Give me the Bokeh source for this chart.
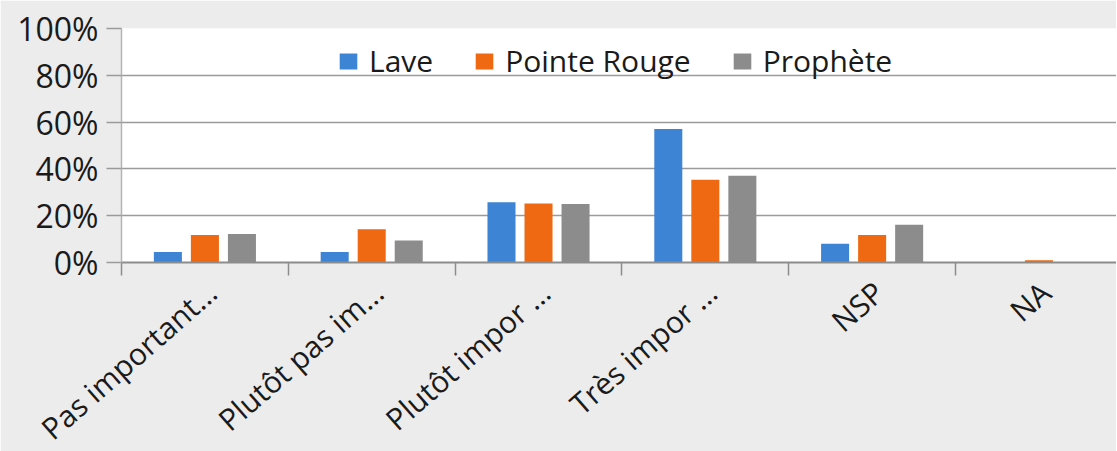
import math
from bokeh.plotting import figure
from bokeh.models import Range1d, FixedTicker, NumeralTickFormatter, Legend, LegendItem, CustomJSTickFormatter
from bokeh.embed import file_html
from bokeh.resources import INLINE

categories = ["Pas important…", "Plutôt pas im…", "Plutôt impor …", "Très impor …", "NSP", "NA"]
series_names = ["Lave", "Pointe Rouge", "Prophète"]
lave = [0.045, 0.045, 0.257, 0.570, 0.080, 0.0]
pointe_rouge = [0.118, 0.142, 0.252, 0.354, 0.118, 0.010]
prophete = [0.122, 0.094, 0.250, 0.371, 0.161, 0.0]
y_ticks = [0, 0.2, 0.4, 0.6, 0.8, 1.0]

colors = ["#3d84d4", "#ee6912", "#8c8c8c"]
FONT = "Open Sans"

p = figure(width=1116, height=435, frame_width=995, frame_height=234,
           x_range=Range1d(-0.5, 5.465), y_range=Range1d(0, 1.0),
           output_backend="svg", toolbar_location=None,
           min_border_left=121, min_border_right=0, min_border_top=28, min_border_bottom=173)

p.background_fill_color = "white"
p.border_fill_color = "#ececec"
p.outline_line_color = None

xs = list(range(len(categories)))
offsets = [-0.222, 0.0, 0.222]
renderers = []
for vals, off, c in zip([lave, pointe_rouge, prophete], offsets, colors):
    r = p.vbar(x=[x + off for x in xs], top=vals, bottom=0, width=0.168,
               fill_color=c, line_color=None)
    renderers.append(r)

legend = Legend(items=[LegendItem(label=n, renderers=[r]) for n, r in zip(series_names, renderers)],
                orientation="horizontal", location=(216, 181),
                glyph_width=22, glyph_height=20, label_standoff=10, spacing=40,
                padding=0, margin=0, border_line_color=None, background_fill_alpha=0,
                label_text_font=FONT, label_text_font_size="30px", label_text_color="#1a1a1a")
p.add_layout(legend, "center")

# x axis: labels placed a little right of each category centre (as in the reference)
p.xaxis.ticker = FixedTicker(ticks=[x + 0.04 for x in xs],
                             minor_ticks=[x - 0.5 for x in range(len(categories) + 1)])
p.xaxis.formatter = CustomJSTickFormatter(args=dict(labels=categories),
                                          code="const i = Math.round(tick); return labels[i] || '';")
p.xaxis.major_label_orientation = 0.72
p.xaxis.major_tick_out = 0
p.xaxis.major_tick_in = 0
p.xaxis.minor_tick_out = 13
p.xaxis.minor_tick_in = 0
p.xaxis.minor_tick_line_color = "#8c8c8c"
p.xaxis.minor_tick_line_width = 1.5
p.xaxis.axis_line_color = "#8c8c8c"
p.xaxis.axis_line_width = 2
p.xaxis.major_label_text_font = FONT
p.xaxis.major_label_text_font_size = "30px"
p.xaxis.major_label_text_color = "#1a1a1a"
p.xaxis.major_label_standoff = 12

# y axis
p.yaxis.ticker = FixedTicker(ticks=y_ticks)
p.yaxis.formatter = NumeralTickFormatter(format="0%")
p.yaxis.major_tick_out = 15
p.yaxis.major_tick_in = 0
p.yaxis.major_tick_line_color = "#9a9a9a"
p.yaxis.major_tick_line_width = 1.5
p.yaxis.minor_tick_line_color = None
p.yaxis.axis_line_color = "#b4b4b4"
p.yaxis.axis_line_width = 1.5
p.yaxis.major_label_text_font = FONT
p.yaxis.major_label_text_font_size = "32px"
p.yaxis.major_label_text_color = "#1a1a1a"
p.yaxis.major_label_standoff = 8

p.xgrid.grid_line_color = None
p.ygrid.grid_line_color = "#9a9a9a"
p.ygrid.grid_line_width = 1.5

open("out.html", "w").write(file_html(p, INLINE))
